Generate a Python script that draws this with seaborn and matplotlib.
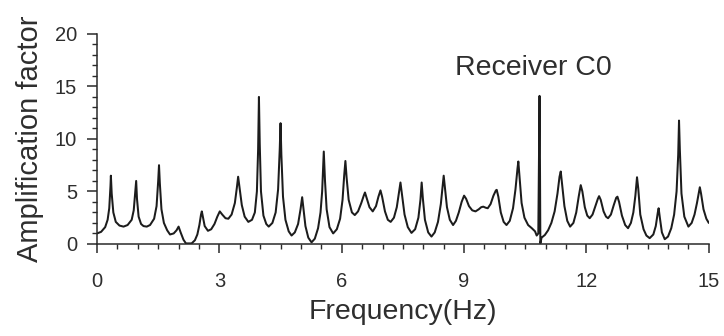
import matplotlib
matplotlib.use("Agg")
import matplotlib.pyplot as plt
import seaborn as sns
import pandas as pd
from matplotlib.ticker import MultipleLocator

freq = [0.00, 0.10, 0.20, 0.26, 0.30, 0.33, 0.34, 0.36, 0.40, 0.46, 0.55, 0.65, 0.75, 0.85, 0.90, 0.94, 0.96, 0.98,
        1.02, 1.08, 1.14, 1.22, 1.30, 1.40, 1.46, 1.50, 1.52, 1.54, 1.58, 1.64, 1.72, 1.79, 1.88, 1.95,
        2.00, 2.05, 2.12, 2.18, 2.32, 2.40, 2.46, 2.51, 2.55, 2.57, 2.60, 2.64, 2.72, 2.80, 2.88, 2.95,
        3.01, 3.07, 3.15, 3.22, 3.30, 3.38, 3.43, 3.46, 3.49, 3.55, 3.62, 3.71, 3.80, 3.87, 3.92, 3.95, 3.97, 3.99,
        4.02, 4.08, 4.15, 4.21, 4.30, 4.38, 4.44, 4.48, 4.50, 4.52, 4.56, 4.62, 4.70, 4.77, 4.85, 4.93, 4.99,
        5.03, 5.06, 5.11, 5.18, 5.26, 5.34, 5.42, 5.48, 5.52, 5.56, 5.59, 5.63, 5.70, 5.79, 5.88, 5.96,
        6.02, 6.06, 6.09, 6.12, 6.17, 6.25, 6.32, 6.40, 6.48, 6.54, 6.57, 6.61, 6.68, 6.76, 6.84, 6.90, 6.95, 6.99,
        7.06, 7.13, 7.20, 7.28, 7.35, 7.40, 7.44, 7.48, 7.54, 7.62, 7.71, 7.80, 7.88, 7.93, 7.96, 7.99,
        8.04, 8.12, 8.20, 8.28, 8.36, 8.43, 8.48, 8.50, 8.53, 8.58, 8.65, 8.73, 8.80, 8.87, 8.94,
        9.00, 9.05, 9.12, 9.20, 9.28, 9.36, 9.42, 9.47, 9.53, 9.58, 9.65, 9.72, 9.78, 9.80, 9.84, 9.90, 9.97,
        10.04, 10.12, 10.20, 10.26, 10.31, 10.33, 10.36, 10.41, 10.48, 10.57, 10.66, 10.74, 10.78, 10.82, 10.84,
        10.85, 10.86, 10.87, 10.90, 10.98, 11.06, 11.14, 11.22, 11.29, 11.34, 11.37, 11.40, 11.46, 11.53, 11.60,
        11.68, 11.75, 11.81, 11.86, 11.90, 11.96, 12.02, 12.08, 12.15, 12.22, 12.28, 12.31, 12.35, 12.42, 12.48,
        12.53, 12.60, 12.67, 12.73, 12.76, 12.80, 12.87, 12.95, 13.02, 13.09, 13.15, 13.20, 13.24, 13.27, 13.32,
        13.40, 13.47, 13.55, 13.64, 13.70, 13.75, 13.77, 13.80, 13.85, 13.92, 14.00, 14.08, 14.15, 14.21, 14.25,
        14.27, 14.29, 14.33, 14.40, 14.50, 14.58, 14.65, 14.71, 14.76, 14.78, 14.81, 14.87, 14.94, 15.00]

amp = [1.0, 1.15, 1.6, 2.3, 3.4, 5.5, 6.5, 4.8, 3.0, 2.1, 1.75, 1.65, 1.8, 2.3, 3.2, 5.0, 6.0, 4.3,
       2.6, 1.9, 1.7, 1.65, 1.8, 2.4, 3.6, 6.0, 7.5, 5.8, 3.3, 2.0, 1.3, 0.9, 1.0, 1.3,
       1.65, 1.1, 0.4, 0.05, 0.05, 0.35, 0.9, 1.8, 2.8, 3.1, 2.5, 1.7, 1.25, 1.4, 1.9, 2.6,
       3.1, 2.8, 2.45, 2.4, 2.8, 3.9, 5.4, 6.4, 5.5, 3.7, 2.6, 2.1, 2.3, 3.0, 5.0, 9.0, 14.0, 9.5,
       5.0, 2.7, 1.9, 1.65, 2.0, 3.0, 5.2, 9.0, 11.5, 8.5, 4.5, 2.3, 1.2, 0.8, 1.1, 1.9, 3.3,
       4.45, 3.4, 1.7, 0.6, 0.15, 0.5, 1.5, 3.0, 5.0, 8.8, 6.0, 3.3, 1.6, 1.0, 1.4, 2.4,
       4.2, 6.5, 7.9, 6.3, 4.2, 3.0, 2.75, 3.1, 3.9, 4.6, 4.9, 4.4, 3.5, 3.1, 3.6, 4.5, 5.1, 4.5,
       3.1, 2.3, 2.1, 2.5, 3.5, 4.8, 5.85, 4.6, 2.8, 1.6, 1.05, 1.4, 2.5, 4.2, 5.85, 4.3,
       2.3, 1.1, 0.7, 1.1, 2.1, 3.8, 5.8, 6.5, 5.4, 3.5, 2.3, 1.8, 2.2, 3.0, 4.0,
       4.6, 4.3, 3.6, 3.2, 3.1, 3.3, 3.5, 3.55, 3.45, 3.4, 3.8, 4.6, 5.1, 5.15, 4.5, 3.0, 2.1,
       1.8, 2.2, 3.4, 5.2, 7.2, 7.85, 6.4, 3.9, 2.5, 1.8, 1.5, 1.2, 0.8, 1.0, 10.0,
       14.1, 8.0, 0.05, 0.6, 0.85, 1.3, 2.0, 3.1, 4.8, 6.4, 6.9, 5.8, 3.6, 2.2, 1.65,
       2.0, 3.0, 4.5, 5.6, 5.0, 3.5, 2.7, 2.45, 2.8, 3.6, 4.3, 4.55, 4.2, 3.1, 2.6,
       2.45, 2.8, 3.7, 4.4, 4.5, 4.0, 2.7, 1.8, 1.5, 2.0, 3.0, 4.6, 6.35, 5.3, 2.8,
       1.4, 0.8, 0.55, 0.9, 1.7, 3.0, 3.4, 2.5, 1.1, 0.45, 0.7, 1.5, 2.8, 5.0, 8.5,
       11.75, 9.0, 4.8, 2.6, 1.65, 2.0, 2.8, 3.9, 5.0, 5.4, 4.8, 3.3, 2.4, 2.0]

x_ticks = [0, 3, 6, 9, 12, 15]
y_ticks = [0, 5, 10, 15, 20]
x_label = "Frequency(Hz)"
y_label = "Amplification factor"
annotation = "Receiver C0"

df = pd.DataFrame({"freq": freq, "amp": amp})

sns.set_style("ticks")
plt.rcParams["font.family"] = ["Liberation Sans", "DejaVu Sans"]

fig = plt.figure(figsize=(7.24, 3.36), dpi=100)
ax = fig.add_axes([0.134, 0.274, 0.845, 0.625])

sns.lineplot(data=df, x="freq", y="amp", ax=ax, color="#1c1c1c", linewidth=1.45,
             estimator=None, sort=False)

ax.set_xlim(0, 15)
ax.set_ylim(0, 20)
ax.set_xticks(x_ticks)
ax.set_yticks(y_ticks)
ax.xaxis.set_minor_locator(MultipleLocator(0.5))
ax.yaxis.set_minor_locator(MultipleLocator(1))

spine_c = "#2a2a2a"
for s in ["top", "right"]:
    ax.spines[s].set_visible(False)
for s in ["left", "bottom"]:
    ax.spines[s].set_color(spine_c)
    ax.spines[s].set_linewidth(1.1)

ax.tick_params(axis="x", which="major", direction="out", length=6.5, width=1.1,
               color=spine_c, pad=13.5, labelsize=14.5, labelcolor="#2e2e2e")
ax.tick_params(axis="x", which="minor", direction="out", length=3.5, width=1.0, color=spine_c)
ax.tick_params(axis="y", which="major", direction="out", length=7, width=1.1,
               color=spine_c, pad=7.5, labelsize=14.5, labelcolor="#2e2e2e")
ax.tick_params(axis="y", which="minor", direction="out", length=3.5, width=1.0, color=spine_c)

ax.set_xlabel(x_label, fontsize=20.5, color="#2e2e2e", labelpad=6)
ax.set_ylabel(y_label, fontsize=21, color="#2e2e2e", labelpad=8)

ax.text(8.77, 16.8, annotation, fontsize=20.5, color="#2e2e2e", ha="left", va="center")

fig.savefig("out.png", dpi=100)
